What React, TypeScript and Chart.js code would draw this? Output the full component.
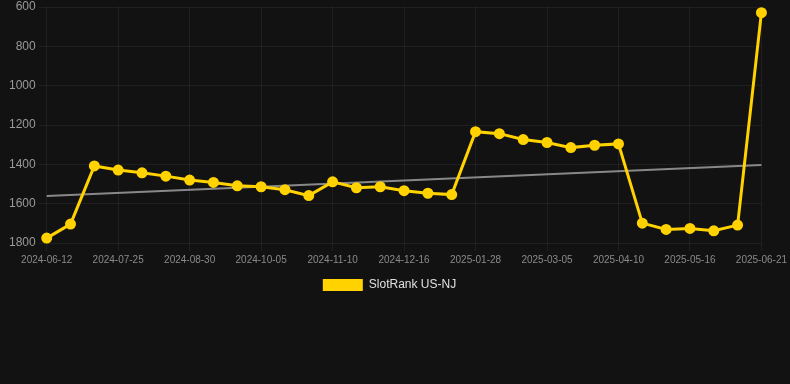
import React, { useEffect, useRef } from "react";
import { Chart, registerables } from "chart.js";

Chart.register(...registerables);

const dates: string[] = [
  "2024-06-12", "2024-06-26", "2024-07-10", "2024-07-25", "2024-08-06", "2024-08-18",
  "2024-08-30", "2024-09-11", "2024-09-23", "2024-10-05", "2024-10-17", "2024-10-29",
  "2024-11-10", "2024-11-22", "2024-12-04", "2024-12-16", "2024-12-30", "2025-01-13",
  "2025-01-28", "2025-02-09", "2025-02-21", "2025-03-05", "2025-03-17", "2025-03-29",
  "2025-04-10", "2025-04-22", "2025-05-04", "2025-05-16", "2025-05-28", "2025-06-09",
  "2025-06-21",
];

const rankValues: number[] = [
  1775, 1704, 1408, 1429, 1443, 1460, 1480, 1492, 1509, 1514, 1529, 1559,
  1489, 1519, 1514, 1534, 1547, 1554, 1234, 1244, 1274, 1289, 1315, 1303,
  1296, 1699, 1731, 1726, 1738, 1709, 629,
];

const trendStart = 1561;
const trendEnd = 1403;
const trendValues: (number | null)[] = dates.map((_, i) =>
  i === 0 ? trendStart : i === dates.length - 1 ? trendEnd : null
);

const yTicks = { min: 600, max: 1800, step: 200 };
const seriesLabel = "SlotRank US-NJ";

export default function App() {
  const canvasRef = useRef<HTMLCanvasElement | null>(null);

  useEffect(() => {
    document.body.style.margin = "0";
    document.body.style.background = "#121212";
    const canvas = canvasRef.current;
    if (!canvas) return;
    const gridColor = "rgba(255,255,255,0.06)";
    const chart = new Chart(canvas, {
      type: "line",
      data: {
        labels: dates,
        datasets: [
          {
            label: seriesLabel,
            data: rankValues,
            borderColor: "#FFD200",
            backgroundColor: "#FFD200",
            borderWidth: 3,
            pointRadius: 4,
            pointBackgroundColor: "#FFD200",
            pointBorderColor: "#FFD200",
            tension: 0,
            clip: false,
          },
          {
            label: "trend",
            data: trendValues,
            borderColor: "rgba(150,150,150,0.9)",
            borderWidth: 2,
            pointRadius: 0,
            spanGaps: true,
          },
        ],
      },
      options: {
        animation: false,
        responsive: false,
        maintainAspectRatio: false,
        layout: { padding: { left: 6, right: 17, top: 0, bottom: 0 } },
        plugins: {
          legend: {
            position: "bottom",
            labels: {
              color: "#e0e0e0",
              font: { size: 12, family: "Arial, 'Liberation Sans', sans-serif" },
              boxWidth: 40,
              boxHeight: 12,
              generateLabels: (c: any) =>
                Chart.defaults.plugins.legend.labels
                  .generateLabels(c)
                  .filter((it: any) => it.text !== "trend")
                  .map((it: any) => ({ ...it, lineWidth: 0, strokeStyle: "transparent" })),
            },
          },
          tooltip: { enabled: false },
        },
        scales: {
          x: {
            grid: {
              color: (ctx: any) => (ctx.index % 3 === 0 ? gridColor : "transparent"),
              tickColor: (ctx: any) => (ctx.index % 3 === 0 ? gridColor : "transparent"),
            },
            border: { display: false },
            ticks: {
              autoSkip: false,
              maxRotation: 0,
              color: "#8a8a8a",
              font: { size: 10, family: "Arial, 'Liberation Sans', sans-serif" },
              callback: (_v: any, i: number) => (i % 3 === 0 ? dates[i] : ""),
            },
          },
          y: {
            reverse: true,
            min: yTicks.min,
            max: yTicks.max,
            grid: { color: gridColor, tickColor: gridColor },
            border: { display: false },
            ticks: {
              stepSize: yTicks.step,
              color: "#9a9a9a",
              font: { size: 12, family: "Arial, 'Liberation Sans', sans-serif", lineHeight: 0.5 },
              callback: (v: any) => String(v),
            },
          },
        },
      },
    });
    return () => chart.destroy();
  }, []);

  return (
    <div style={{ position: "fixed", left: 0, top: 0, width: 790, height: 384, background: "#121212" }}>
      <canvas ref={canvasRef} width={790} height={301} style={{ display: "block" }} />
    </div>
  );
}
